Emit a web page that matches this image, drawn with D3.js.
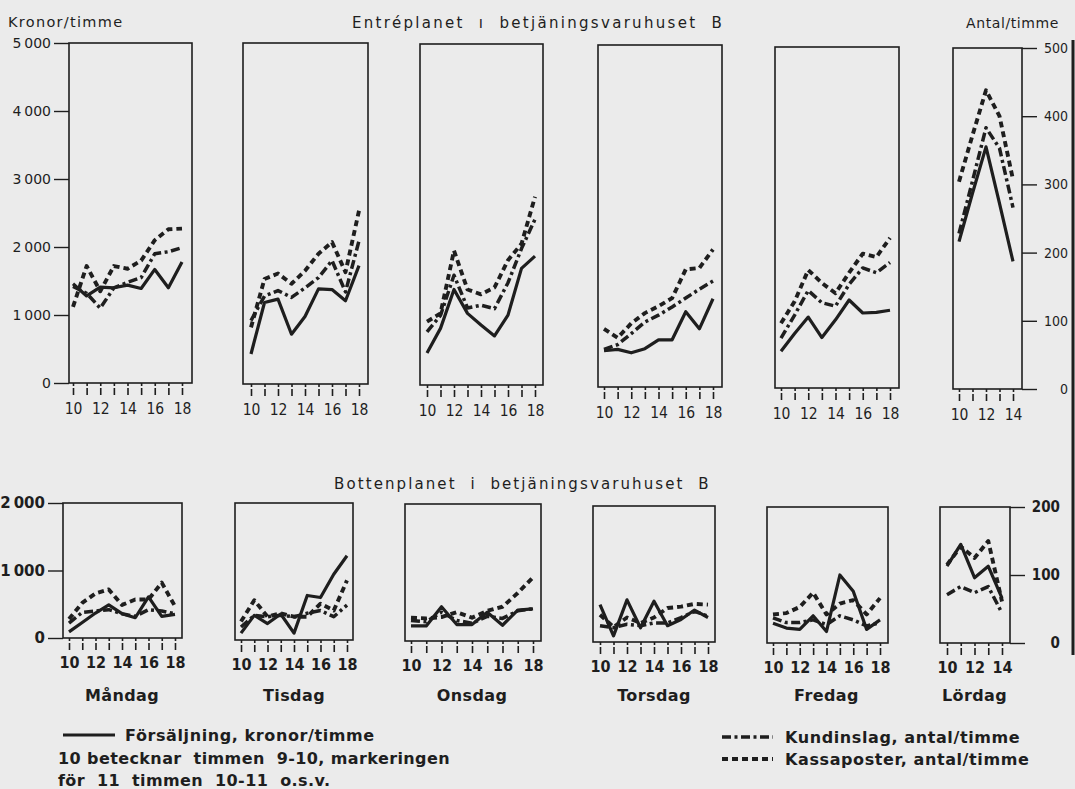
<!DOCTYPE html>
<html><head><meta charset="utf-8">
<script src="https://cdn.jsdelivr.net/npm/d3@7"></script>
<style>
html,body{margin:0;padding:0;background:#ebebeb;}
svg{display:block;}
text{font-family:"DejaVu Sans",sans-serif;fill:#1e1e1e;}
</style></head>
<body>
<svg id="chart" width="1075" height="789"></svg>
<script>
// ---------- DATA ----------
const hours = [10, 11, 12, 13, 14, 15, 16, 17, 18];
const satHours = [10, 11, 12, 13, 14];
const days = ["Måndag", "Tisdag", "Onsdag", "Torsdag", "Fredag", "Lördag"];
const hourLabels = [10, 12, 14, 16, 18];
const krTicksTop = [0, 1000, 2000, 3000, 4000, 5000];
const krTicksBottom = [0, 1000, 2000];
const antalTicksTop = [0, 100, 200, 300, 400, 500];
const antalTicksBottom = [0, 100, 200];

// Entréplanet – Försäljning, kronor/timme
const entreForsaljning = [
  [1460, 1280, 1410, 1400, 1440, 1390, 1670, 1400, 1780],
  [440, 1195, 1245, 730, 990, 1395, 1385, 1220, 1735],
  [470, 830, 1400, 1050, 880, 720, 1025, 1710, 1890],
  [530, 550, 500, 560, 690, 690, 1100, 850, 1290],
  [540, 800, 1040, 740, 1000, 1290, 1100, 1110, 1140],
  [2160, 2870, 3550, 2720, 1870]
];
// Entréplanet – Kundinslag, antal/timme
const entreKundinslag = [
  [142, 132, 110, 140, 148, 155, 190, 193, 199],
  [93, 129, 137, 127, 141, 156, 181, 135, 210],
  [78, 102, 161, 113, 117, 112, 150, 200, 243],
  [55, 62, 78, 95, 105, 117, 130, 143, 155],
  [73, 107, 143, 125, 120, 152, 176, 169, 184],
  [228, 305, 383, 353, 266]
];
// Entréplanet – Kassaposter, antal/timme
const entreKassaposter = [
  [112, 172, 135, 172, 168, 180, 210, 226, 227],
  [83, 154, 162, 147, 166, 191, 208, 164, 254],
  [93, 105, 197, 140, 133, 143, 183, 207, 276],
  [85, 72, 93, 108, 118, 130, 172, 174, 201],
  [95, 127, 173, 154, 139, 169, 197, 192, 220],
  [304, 372, 438, 400, 307]
];
// Bottenplanet – Försäljning, kronor/timme
const bottenForsaljning = [
  [90, 230, 370, 490, 360, 300, 610, 320, 350],
  [100, 360, 240, 380, 100, 650, 620, 960, 1230],
  [220, 220, 500, 240, 240, 420, 230, 450, 470],
  [550, 90, 620, 210, 600, 240, 330, 470, 360],
  [290, 220, 200, 400, 170, 1000, 760, 200, 340],
  [1130, 1450, 960, 1130, 660]
];
// Bottenplanet – Kundinslag, antal/timme
const bottenKundinslag = [
  [22, 38, 40, 42, 36, 32, 42, 40, 36],
  [19, 36, 34, 36, 34, 39, 43, 34, 51],
  [30, 28, 42, 30, 26, 36, 33, 44, 47],
  [24, 21, 26, 24, 28, 28, 36, 45, 38],
  [37, 30, 30, 34, 27, 40, 34, 25, 30],
  [71, 83, 74, 83, 44]
];
// Bottenplanet – Kassaposter, antal/timme
const bottenKassaposter = [
  [28, 52, 66, 72, 49, 57, 57, 82, 47],
  [27, 58, 34, 39, 34, 34, 53, 43, 87],
  [34, 33, 35, 42, 34, 44, 50, 70, 93],
  [40, 22, 36, 28, 36, 50, 52, 56, 55],
  [42, 44, 53, 74, 42, 58, 63, 42, 66],
  [115, 142, 125, 150, 61]
];

// ---------- LAYOUT ----------
const ink = "#1e1e1e";
const condensed = "'DejaVu Sans Condensed','DejaVu Sans',sans-serif";
const topPanels = [
  {x0: 69, x1: 192, y0: 43, y1: 383, t0: 73, t1: 182},
  {x0: 243, x1: 368, y0: 43, y1: 384, t0: 251, t1: 359},
  {x0: 420, x1: 543, y0: 44, y1: 385, t0: 427, t1: 535},
  {x0: 598, x1: 722, y0: 45, y1: 387, t0: 604, t1: 713},
  {x0: 775, x1: 899, y0: 47, y1: 388, t0: 781, t1: 890},
  {x0: 953, x1: 1022, y0: 48, y1: 389, t0: 959, t1: 1013}
];
const botPanels = [
  {x0: 63, x1: 182, y0: 503, y1: 638, t0: 69, t1: 175},
  {x0: 235, x1: 353, y0: 503, y1: 640, t0: 241, t1: 347},
  {x0: 405, x1: 541, y0: 504, y1: 641, t0: 411, t1: 533},
  {x0: 593, x1: 715, y0: 506, y1: 642, t0: 600, t1: 708},
  {x0: 767, x1: 888, y0: 507, y1: 643, t0: 773, t1: 880},
  {x0: 940, x1: 1010, y0: 507, y1: 643, t0: 947, t1: 1002}
];
const styles = {
  sales: {w: 3.2, dash: null},
  kund: {w: 3.5, dash: "9,3.5,3,3.5"},
  kassa: {w: 3.9, dash: "6,4"}
};

const svg = d3.select("#chart");
svg.append("rect").attr("width", 1075).attr("height", 789).attr("fill", "#ebebeb");

function fmtKr(d) { return d === 0 ? "0" : d3.format(",")(d).replace(",", "\u2009"); }

function drawRow(panels, krMax, antalMax, sales, kund, kassa, opts) {
  panels.forEach((p, i) => {
    const hrs = i === 5 ? satHours : hours;
    const x = d3.scaleLinear().domain([hrs[0], hrs[hrs.length - 1]]).range([p.t0, p.t1]);
    const yKr = d3.scaleLinear().domain([0, krMax]).range([p.y1, p.y0]);
    const yAn = d3.scaleLinear().domain([0, antalMax]).range([p.y1, p.y0]);
    const g = svg.append("g");

    // box
    g.append("rect").attr("x", p.x0).attr("y", p.y0)
      .attr("width", p.x1 - p.x0).attr("height", p.y1 - p.y0)
      .attr("fill", "none").attr("stroke", ink).attr("stroke-width", 1.6);

    // hour ticks
    const ax = d3.axisBottom(x).tickValues(hrs).tickSize(opts.tickLen).tickPadding(opts.labPad)
      .tickFormat(d => hourLabels.includes(d) ? d : "");
    const ga = g.append("g").attr("transform", `translate(0,${p.y1})`).call(ax);
    ga.select(".domain").remove();
    ga.selectAll(".tick line").attr("stroke", ink).attr("stroke-width", 1.6)
      .attr("stroke-dasharray", "3,2,7");
    ga.selectAll(".tick text").attr("font-size", opts.hourFont).attr("font-weight", opts.hourWeight)
      .attr("fill", ink).style("font-family", condensed);

    // left axis on first panel
    if (i === 0) {
      const ay = d3.axisLeft(yKr).tickValues(opts.krTicks).tickSize(opts.yTickLen).tickPadding(3).tickFormat(fmtKr);
      const gy = g.append("g").attr("transform", `translate(${p.x0},0)`).call(ay);
      gy.select(".domain").remove();
      gy.selectAll(".tick line").attr("stroke", ink).attr("stroke-width", 1.4);
      gy.selectAll(".tick text").attr("font-size", opts.yFont).attr("font-weight", opts.yWeight).attr("fill", ink)
        .style("font-family", "'DejaVu Sans',sans-serif");
    }
    // right axis on last panel
    if (i === 5) {
      const ar = d3.axisRight(yAn).tickValues(opts.antalTicks).tickSize(opts.yTickLen).tickPadding(0).tickFormat(d => d);
      const gr = g.append("g").attr("transform", `translate(${p.x1},0)`).call(ar);
      gr.select(".domain").remove();
      gr.selectAll(".tick line").attr("stroke", ink).attr("stroke-width", 1.4);
      gr.selectAll(".tick text").attr("font-size", opts.yFont).attr("font-weight", opts.yWeight).attr("fill", ink)
        .attr("text-anchor", "end").attr("x", opts.rightLabelX - p.x1)
        .style("font-family", condensed);
    }

    const lineKr = d3.line().x((d, k) => x(hrs[k])).y(d => yKr(d));
    const lineAn = d3.line().x((d, k) => x(hrs[k])).y(d => yAn(d));
    const series = [
      {data: kassa[i], gen: lineAn, s: styles.kassa},
      {data: kund[i], gen: lineAn, s: styles.kund},
      {data: sales[i], gen: lineKr, s: styles.sales}
    ];
    series.forEach(se => {
      g.append("path").attr("d", se.gen(se.data)).attr("fill", "none")
        .attr("stroke", ink).attr("stroke-width", se.s.w)
        .attr("stroke-linejoin", "round").attr("stroke-linecap", "butt")
        .attr("stroke-dasharray", se.s.dash);
    });

    if (opts.dayLabels) {
      g.append("text").attr("x", (p.t0 + p.t1) / 2).attr("y", opts.dayY)
        .attr("text-anchor", "middle").attr("font-size", 16).attr("font-weight", "bold")
        .style("letter-spacing", "0.4px").text(days[i]);
    }
  });
}

drawRow(topPanels, 5000, 500, entreForsaljning, entreKundinslag, entreKassaposter,
  {tickLen: 14, labPad: 6, hourFont: 15.5, hourWeight: "normal", krTicks: krTicksTop, antalTicks: antalTicksTop,
   yTickLen: 15, yFont: 14, yWeight: "normal", rightLabelX: 1068, dayLabels: false});
drawRow(botPanels, 2000, 200, bottenForsaljning, bottenKundinslag, bottenKassaposter,
  {tickLen: 13, labPad: 6, hourFont: 16, hourWeight: "bold", krTicks: krTicksBottom, antalTicks: antalTicksBottom,
   yTickLen: 15, yFont: 15, yWeight: "bold", rightLabelX: 1060, dayLabels: true, dayY: 701});

// titles
svg.append("text").attr("x", 8).attr("y", 27).attr("font-size", 14.5).style("letter-spacing", "1.3px")
  .text("Kronor/timme");
svg.append("text").attr("x", 966).attr("y", 28).attr("font-size", 14).style("letter-spacing", "0.6px")
  .text("Antal/timme");
svg.append("text").attr("x", 352).attr("y", 28).attr("font-size", 15).attr("xml:space", "preserve")
  .style("letter-spacing", "2.3px").text("Entréplanet  ı  betjäningsvaruhuset  B");
svg.append("text").attr("x", 334).attr("y", 489).attr("font-size", 15).attr("xml:space", "preserve")
  .style("letter-spacing", "2.1px").text("Bottenplanet  i  betjäningsvaruhuset  B");

// legend
const legend = svg.append("g");
const legendItems = [
  {x1: 63, x2: 115, y: 735, s: styles.sales, tx: 125, ty: 741, t: "Försäljning, kronor/timme"},
  {x1: 722, x2: 773, y: 737, s: styles.kund, tx: 785, ty: 743, t: "Kundinslag, antal/timme"},
  {x1: 722, x2: 773, y: 759, s: styles.kassa, tx: 785, ty: 765, t: "Kassaposter, antal/timme"}
];
legendItems.forEach(it => {
  legend.append("line").attr("x1", it.x1).attr("x2", it.x2).attr("y1", it.y).attr("y2", it.y)
    .attr("stroke", ink).attr("stroke-width", it.s.w).attr("stroke-dasharray", it.s.dash);
  legend.append("text").attr("x", it.tx).attr("y", it.ty).attr("font-size", 16).attr("font-weight", "bold")
    .style("letter-spacing", "0.6px").text(it.t);
});
legend.append("text").attr("x", 58).attr("y", 764).attr("font-size", 16).attr("font-weight", "bold")
  .attr("xml:space", "preserve").style("letter-spacing", "0.4px").text("10 betecknar  timmen  9-10, markeringen");
legend.append("text").attr("x", 58).attr("y", 786).attr("font-size", 16).attr("font-weight", "bold")
  .attr("xml:space", "preserve").style("letter-spacing", "0.4px").text("för  11  timmen  10-11  o.s.v.");

// right page edge (scan border)
svg.append("line").attr("x1", 1073).attr("x2", 1073).attr("y1", 40).attr("y2", 655)
  .attr("stroke", ink).attr("stroke-width", 3);
</script>
</body></html>
